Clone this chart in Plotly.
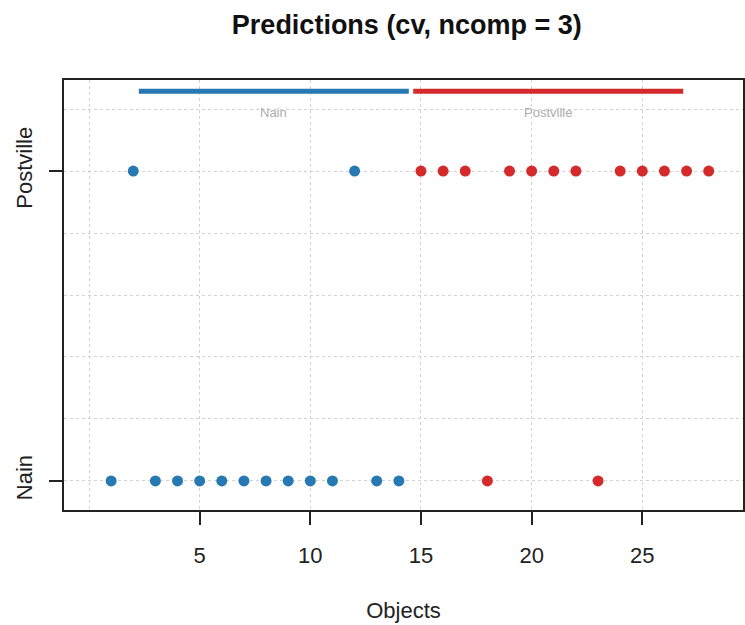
import plotly.graph_objects as go

# Object indices and predicted class (1 = Nain, 2 = Postville), coloured by reference class
nain_objects = [1, 2, 3, 4, 5, 6, 7, 8, 9, 10, 11, 12, 13, 14]
nain_pred = [1, 2, 1, 1, 1, 1, 1, 1, 1, 1, 1, 2, 1, 1]
postville_objects = [15, 16, 17, 18, 19, 20, 21, 22, 23, 24, 25, 26, 27, 28]
postville_pred = [2, 2, 2, 1, 2, 2, 2, 2, 1, 2, 2, 2, 2, 2]

class_names = ["Nain", "Postville"]
class_colors = ["#2679B2", "#D42A2B"]
# Group segments along the top of the plot
group_start = [2.25, 14.65]
group_end = [14.45, 26.85]
group_level = 2.258
group_label_level = 2.19

fig = go.Figure()

for objs, pred, col in [(nain_objects, nain_pred, class_colors[0]),
                        (postville_objects, postville_pred, class_colors[1])]:
    fig.add_trace(go.Scatter(x=objs, y=pred, mode="markers",
                             marker=dict(color=col, size=11, line=dict(width=0)),
                             showlegend=False, hoverinfo="x+y"))

for name, x0, x1, col in zip(class_names, group_start, group_end, class_colors):
    fig.add_trace(go.Scatter(x=[x0, x1], y=[group_level, group_level], mode="lines",
                             line=dict(color=col, width=5), showlegend=False,
                             hoverinfo="skip"))
    fig.add_annotation(x=(x0 + x1) / 2, y=group_label_level, text=name,
                       showarrow=False, font=dict(size=13, color="#ADADAD"))

grid_col = "#D2D2D2"
fig.update_layout(
    width=745, height=625,
    margin=dict(l=64, r=0, t=80, b=115),
    paper_bgcolor="white", plot_bgcolor="white",
    font=dict(family="Liberation Sans, Arial, sans-serif", color="#222222"),
    title=dict(text="<b>Predictions (cv, ncomp = 3)</b>", x=0.546, xanchor="center",
               y=0.961, yanchor="middle", font=dict(size=27, color="#111111")),
    xaxis=dict(range=[-1.13, 29.55], tickvals=[5, 10, 15, 20, 25],
               ticks="outside", ticklen=13, tickwidth=1.5, tickcolor="#222",
               tickfont=dict(size=22), ticklabelstandoff=12,
               showline=True, linecolor="#222", linewidth=1.5,
               mirror=True, zeroline=False, showgrid=False,
               minor=dict(tickvals=[0, 5, 10, 15, 20, 25], showgrid=True,
                          gridcolor=grid_col, griddash="dot", gridwidth=1, ticks=""),
               title=dict(text="Objects", font=dict(size=22), standoff=35)),
    yaxis=dict(range=[0.906, 2.294], tickvals=[1, 2], ticktext=class_names,
               tickangle=-90, ticks="outside", ticklen=13, tickwidth=1.5,
               tickcolor="#222", tickfont=dict(size=22), ticklabelstandoff=8,
               showline=True,
               linecolor="#222", linewidth=1.5, mirror=True, zeroline=False,
               showgrid=False,
               minor=dict(tickvals=[1, 1.2, 1.4, 1.6, 1.8, 2, 2.2], showgrid=True,
                          gridcolor=grid_col, griddash="dot", gridwidth=1, ticks="")),
)

fig.write_html("out.html")
